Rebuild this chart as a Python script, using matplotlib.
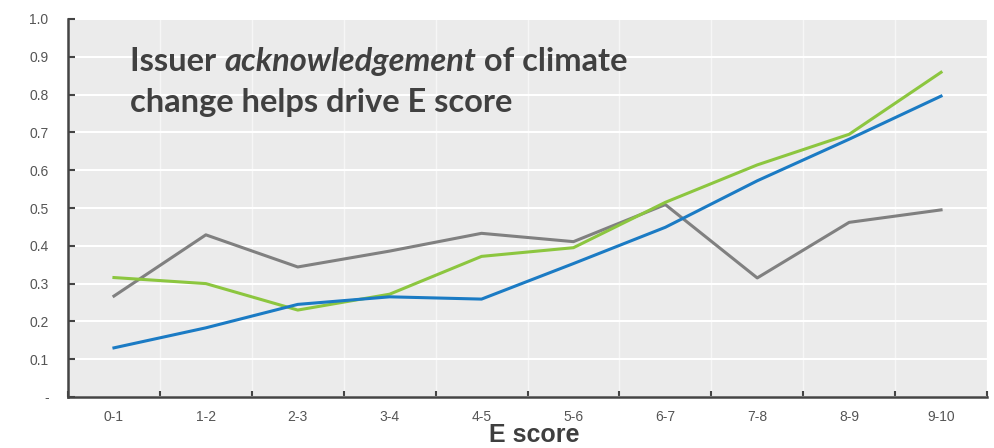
import matplotlib.pyplot as plt
from matplotlib import font_manager
from matplotlib.ticker import FixedLocator, NullFormatter
import matplotlib.transforms as mtransforms

# E score buckets and the three series
buckets = ["0-1", "1-2", "2-3", "3-4", "4-5", "5-6", "6-7", "7-8", "8-9", "9-10"]
grey_vals = [0.267, 0.429, 0.344, 0.386, 0.433, 0.411, 0.509, 0.315, 0.462, 0.495]
green_vals = [0.316, 0.300, 0.230, 0.272, 0.372, 0.395, 0.515, 0.614, 0.695, 0.859]
blue_vals = [0.130, 0.183, 0.245, 0.265, 0.259, 0.353, 0.449, 0.572, 0.682, 0.796]
y_ticks = [0.0, 0.1, 0.2, 0.3, 0.4, 0.5, 0.6, 0.7, 0.8, 0.9, 1.0]
y_labels = ["-", "0.1", "0.2", "0.3", "0.4", "0.5", "0.6", "0.7", "0.8", "0.9", "1.0"]

names = {f.name for f in font_manager.fontManager.ttflist}
tick_font = "Liberation Sans Narrow" if "Liberation Sans Narrow" in names else "Liberation Sans"
note_font = "Lato" if "Lato" in names else "Open Sans"

fig = plt.figure(figsize=(9.95, 4.48), dpi=100)
ax = fig.add_axes([68 / 995, 51 / 448, 919 / 995, 378 / 448])
ax.set_facecolor("#ebebeb")

x = list(range(len(buckets)))
ax.plot(x, grey_vals, color="#808080", lw=2.2, zorder=3)
ax.plot(x, green_vals, color="#8cc63f", lw=2.2, zorder=4)
ax.plot(x, blue_vals, color="#1b7bc4", lw=2.2, zorder=5)

ax.set_xlim(-0.5, len(buckets) - 0.5)
ax.set_ylim(0, 1.0)

# category labels in the middle, ticks and grid on the boundaries
ax.set_xticks(x)
ax.set_xticklabels(buckets)
ax.xaxis.set_minor_locator(FixedLocator([i - 0.5 for i in range(len(buckets) + 1)]))
ax.xaxis.set_minor_formatter(NullFormatter())
ax.tick_params(axis="x", which="major", length=0, pad=9)
ax.tick_params(axis="x", which="minor", direction="in", length=4, width=1.5, color="#444444")
ax.set_yticks(y_ticks)
ax.set_yticklabels(y_labels)
ax.tick_params(axis="y", direction="in", length=5, width=1.5, color="#444444", pad=14)
for lab in ax.get_xticklabels() + ax.get_yticklabels():
    lab.set_fontfamily(tick_font)
    lab.set_fontsize(10)
    lab.set_color("#555555")

ax.grid(True, axis="y", color="white", lw=1.5)
ax.grid(True, axis="x", which="minor", color="#f6f6f6", lw=1.0)
ax.set_axisbelow(True)

for side in ["top", "right"]:
    ax.spines[side].set_visible(False)
for side in ["left", "bottom"]:
    ax.spines[side].set_color("#444444")
    ax.spines[side].set_linewidth(1.8)

fig.text(534 / 995, 6 / 448, "E score", ha="center", va="baseline",
         fontsize=18, fontweight="bold", color="#3f3f3f", family="Liberation Sans")

# two-line note, middle word in italics
fig.canvas.draw()
renderer = fig.canvas.get_renderer()
style = dict(fontsize=23.5, fontweight="bold", color="#404040", family=note_font,
             va="baseline", ha="left")
x0, y1 = 130 / 995, 1 - 71 / 448
t = fig.text(x0, y1, "Issuer ", **style)
w = t.get_window_extent(renderer).width
t2 = fig.text(x0, y1, "acknowledgement", fontstyle="italic",
              transform=mtransforms.offset_copy(fig.transFigure, fig=fig, x=w, y=0, units="dots"),
              **style)
w2 = t2.get_window_extent(renderer).width
fig.text(x0, y1, " of climate",
         transform=mtransforms.offset_copy(fig.transFigure, fig=fig, x=w + w2, y=0, units="dots"),
         **style)
fig.text(x0, 1 - 112 / 448, "change helps drive E score", **style)

fig.savefig("out.png", dpi=100)
